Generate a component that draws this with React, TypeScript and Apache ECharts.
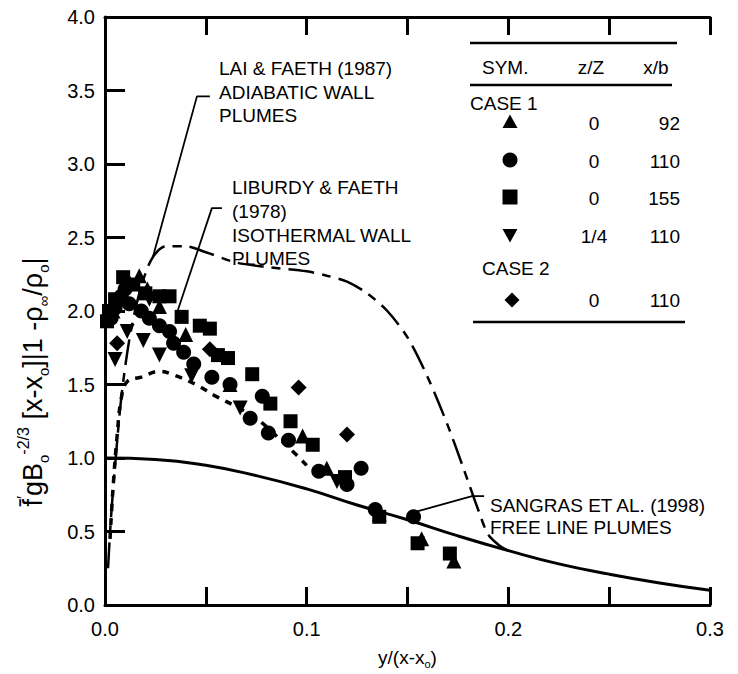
import React, { useEffect, useRef } from 'react';
import * as echarts from 'echarts';

// ---- axis ticks ----
const xTicks = [0, 0.05, 0.1, 0.15, 0.2, 0.25, 0.3];
const yTicks = [0, 0.5, 1, 1.5, 2, 2.5, 3, 3.5, 4];

// ---- data: CASE 1 ----
const case1Tri92: [number, number][] = [
  [0.004, 2.0], [0.007, 2.1], [0.012, 2.2], [0.017, 2.24], [0.021, 2.15], [0.027, 2.03], [0.04, 1.84],
  [0.062, 1.5], [0.098, 1.15], [0.11, 0.93], [0.136, 0.62], [0.157, 0.45], [0.173, 0.3],
];
const case1Circ110: [number, number][] = [
  [0.003, 1.95], [0.005, 2.02], [0.008, 2.1], [0.01, 2.15], [0.012, 2.05], [0.018, 2.0], [0.022, 1.95], [0.027, 1.9],
  [0.032, 1.86], [0.034, 1.78], [0.039, 1.72], [0.044, 1.64], [0.053, 1.55], [0.062, 1.5],
  [0.072, 1.27], [0.078, 1.42], [0.081, 1.17], [0.091, 1.12], [0.106, 0.91], [0.12, 0.82],
  [0.127, 0.93], [0.134, 0.65], [0.153, 0.6],
];
const case1Sq155: [number, number][] = [
  [0.001, 1.93], [0.002, 2.0], [0.005, 2.08], [0.009, 2.23], [0.014, 2.18], [0.02, 2.12], [0.027, 2.1], [0.032, 2.1],
  [0.038, 1.96], [0.047, 1.9], [0.052, 1.88], [0.056, 1.7], [0.061, 1.68], [0.073, 1.57],
  [0.082, 1.37], [0.092, 1.25], [0.103, 1.09], [0.119, 0.87], [0.136, 0.6], [0.155, 0.42],
  [0.171, 0.35],
];
const case1DownTri110: [number, number][] = [
  [0.005, 1.67], [0.011, 1.86], [0.019, 1.8], [0.022, 2.08], [0.027, 1.7], [0.043, 1.56],
  [0.067, 1.34], [0.115, 0.84],
];
// ---- data: CASE 2 ----
const case2Diam110: [number, number][] = [
  [0.006, 1.78], [0.052, 1.74], [0.096, 1.48], [0.12, 1.16],
];

// ---- model curves ----
const sangrasX = [0, 0.025, 0.05, 0.075, 0.1, 0.125, 0.15, 0.175, 0.2, 0.225, 0.25, 0.275, 0.3];
const sangrasY = [1.0, 0.99, 0.95, 0.88, 0.79, 0.68, 0.58, 0.47, 0.37, 0.28, 0.21, 0.15, 0.1];
const laiX = [0.0015, 0.003, 0.005, 0.008, 0.012, 0.017, 0.023, 0.03, 0.04, 0.05, 0.065, 0.08, 0.1, 0.11, 0.12, 0.13, 0.14, 0.15, 0.16, 0.17, 0.178, 0.185, 0.19, 0.196, 0.2];
const laiY = [0.25, 0.6, 0.95, 1.4, 1.8, 2.12, 2.35, 2.44, 2.44, 2.4, 2.33, 2.3, 2.27, 2.24, 2.2, 2.12, 2.0, 1.82, 1.55, 1.22, 0.92, 0.65, 0.48, 0.4, 0.37];
const liburdyX = [0.0025, 0.004, 0.006, 0.008, 0.011, 0.018, 0.027, 0.035, 0.045, 0.055, 0.065, 0.075, 0.085, 0.095, 0.1];
const liburdyY = [0.45, 0.8, 1.15, 1.4, 1.52, 1.55, 1.59, 1.56, 1.5, 1.42, 1.35, 1.27, 1.15, 1.02, 0.95];

// ---- leader lines (annotation) ----
const laiLeader: [number, number][] = [[0.052, 3.46], [0.0456, 3.46], [0.0238, 2.37]];
const liburdyLeader: [number, number][] = [[0.058, 2.7], [0.053, 2.7], [0.036, 2.0]];
const sangrasLeader: [number, number][] = [[0.188, 0.74], [0.182, 0.74], [0.153, 0.63]];

// ---- table ----
const tableRows = [
  { sym: 'tri', z: '0', xb: '92' },
  { sym: 'circ', z: '0', xb: '110' },
  { sym: 'sq', z: '0', xb: '155' },
  { sym: 'dtri', z: '1/4', xb: '110' },
];
const case2Rows = [{ sym: 'diam', z: '0', xb: '110' }];

const FONT = '"Liberation Sans", Arial, Helvetica, sans-serif';
const zip = (xs: number[], ys: number[]) => xs.map((x, i) => [x, ys[i]]);

export default function App() {
  const ref = useRef<HTMLDivElement>(null);
  useEffect(() => {
    document.body.style.margin = '0';
    const chart = echarts.init(ref.current!, undefined, { renderer: 'svg' });

    const G = { left: 105, right: 28, top: 17, bottom: 56 };
    const txt = (x: number, y: number, text: string, align = 'left', size = 19) => ({
      type: 'text', x, y, silent: true,
      style: { text, fill: '#000', font: `${size}px ${FONT}`, align, verticalAlign: 'middle' },
    });
    const hline = (x1: number, x2: number, y: number) => ({
      type: 'line', silent: true, shape: { x1, y1: y, x2, y2: y }, style: { stroke: '#000', lineWidth: 2.5 },
    });
    const symShape = (kind: string, cx: number, cy: number) => {
      const s = 7.5;
      const st = { fill: '#000' };
      if (kind === 'tri') return { type: 'polygon', shape: { points: [[cx, cy - s], [cx + s, cy + s * 0.8], [cx - s, cy + s * 0.8]] }, style: st };
      if (kind === 'dtri') return { type: 'polygon', shape: { points: [[cx - s, cy - s * 0.8], [cx + s, cy - s * 0.8], [cx, cy + s]] }, style: st };
      if (kind === 'circ') return { type: 'circle', shape: { cx, cy, r: s }, style: st };
      if (kind === 'sq') return { type: 'rect', shape: { x: cx - s, y: cy - s, width: 2 * s, height: 2 * s }, style: st };
      return { type: 'polygon', shape: { points: [[cx, cy - s], [cx + s, cy], [cx, cy + s], [cx - s, cy]] }, style: st };
    };

    const rowY = [122, 160, 197, 235];
    const tableEls: any[] = [
      hline(470, 677, 43),
      txt(482, 67, 'SYM.'),
      txt(591, 67, 'z/Z', 'center'),
      txt(656, 67, 'x/b', 'center'),
      hline(470, 672, 85),
      txt(470, 103, 'CASE 1'),
      ...tableRows.flatMap((r, i) => [
        symShape(r.sym, 510, rowY[i]),
        txt(594, rowY[i] + 1, r.z, 'center'),
        txt(680, rowY[i] + 1, r.xb, 'right'),
      ]),
      txt(482, 268, 'CASE 2'),
      ...case2Rows.flatMap((r) => [
        symShape(r.sym, 512, 300),
        txt(594, 300, r.z, 'center'),
        txt(680, 300, r.xb, 'right'),
      ]),
      hline(473, 685, 322),
    ];

    const labelEls: any[] = [
      txt(219, 68, 'LAI & FAETH (1987)'),
      txt(219, 92, 'ADIABATIC WALL'),
      txt(219, 115, 'PLUMES'),
      txt(232, 187, 'LIBURDY & FAETH'),
      txt(232, 211, '(1978)'),
      txt(232, 235, 'ISOTHERMAL WALL'),
      txt(232, 258, 'PLUMES'),
      txt(490, 505, 'SANGRAS ET AL. (1998)'),
      txt(490, 527, 'FREE LINE PLUMES'),
    ];

    const yTitle = {
      type: 'text', x: 33, y: 382, rotation: Math.PI / 2, silent: true,
      style: {
        text: '{n|f̄}{sup|′}{n|gB}{sub|o}{sup|-2/3}{n| [x-x}{sub|o}{n|]|1 -ρ}{sub|∞}{n|/ρ}{sub|o}{n||}',
        align: 'center', verticalAlign: 'middle', fill: '#000',
        rich: {
          n: { fontSize: 27, fontFamily: FONT, lineHeight: 36, fill: '#000' },
          sup: { fontSize: 16, fontFamily: FONT, lineHeight: 16, verticalAlign: 'top', fill: '#000' },
          sub: { fontSize: 15, fontFamily: FONT, lineHeight: 15, verticalAlign: 'bottom', fill: '#000' },
        },
      },
    };

    const scatter = (name: string, data: any[], symbol: string, size: number, rotate = 0) => ({
      name, type: 'scatter', data, symbol, symbolSize: size, symbolRotate: rotate, z: 5,
      itemStyle: { color: '#000', opacity: 1 },
    });
    const leader = (data: any[]) => ({
      type: 'line', data, showSymbol: false, symbol: 'none', silent: true, z: 3,
      lineStyle: { color: '#000', width: 1.8 },
    });

    chart.setOption({
      animation: false,
      backgroundColor: '#fff',
      textStyle: { fontFamily: FONT, color: '#000' },
      grid: G,
      xAxis: [
        {
          type: 'value', position: 'bottom', min: 0, max: 0.3, interval: 0.05,
          axisLine: { onZero: false, lineStyle: { color: '#000', width: 3 } },
          axisTick: { inside: true, length: 18, lineStyle: { color: '#000', width: 3 } },
          splitLine: { show: false },
          axisLabel: {
            fontSize: 20, color: '#000', fontFamily: FONT, margin: 14,
            formatter: (v: number) => (Math.round(v * 100) % 10 === 0 ? v.toFixed(1) : ''),
          },
          name: '{n|y/(x-x}{s|o}{n|)}', nameLocation: 'middle', nameGap: 40,
          nameTextStyle: {
            rich: {
              n: { fontSize: 19, fontFamily: FONT, color: '#000', lineHeight: 24 },
              s: { fontSize: 11, fontFamily: FONT, color: '#000', lineHeight: 10, verticalAlign: 'bottom' },
            },
          },
        },
        {
          type: 'value', position: 'top', min: 0, max: 0.3, interval: 0.05,
          axisLine: { onZero: false, lineStyle: { color: '#000', width: 3 } },
          axisTick: { inside: true, length: 18, lineStyle: { color: '#000', width: 3 } },
          splitLine: { show: false }, axisLabel: { show: false },
        },
      ],
      yAxis: [
        {
          type: 'value', position: 'left', min: 0, max: 4, interval: 0.5,
          axisLine: { show: true, onZero: false, lineStyle: { color: '#000', width: 3 } },
          axisTick: { show: true, inside: true, length: 20, lineStyle: { color: '#000', width: 3 } },
          splitLine: { show: false },
          axisLabel: { fontSize: 20, color: '#000', fontFamily: FONT, margin: 10, formatter: (v: number) => v.toFixed(1) },
        },
      ],
      series: [
        {
          name: 'Sangras', type: 'line', data: zip(sangrasX, sangrasY), smooth: true, showSymbol: false, symbol: 'none', z: 2,
          lineStyle: { color: '#000', width: 3 },
        },
        {
          name: 'Lai', type: 'line', data: zip(laiX, laiY), smooth: 0.3, showSymbol: false, symbol: 'none', z: 2,
          lineStyle: { color: '#000', width: 2.5, type: [26, 8, 9, 8] },
        },
        {
          name: 'Liburdy', type: 'line', data: zip(liburdyX, liburdyY), smooth: 0.4, showSymbol: false, symbol: 'none', z: 2,
          lineStyle: { color: '#000', width: 3.5, type: [7, 7] },
        },
        leader(laiLeader),
        leader(liburdyLeader),
        leader(sangrasLeader),
        scatter('tri92', case1Tri92, 'triangle', 15),
        scatter('circ110', case1Circ110, 'circle', 15),
        scatter('sq155', case1Sq155, 'rect', 14),
        scatter('dtri110', case1DownTri110, 'triangle', 15, 180),
        scatter('diam110', case2Diam110, 'diamond', 16),
      ],
      graphic: [...tableEls, ...labelEls, yTitle],
    });
    return () => chart.dispose();
  }, []);
  return <div ref={ref} style={{ position: 'fixed', left: 0, top: 0, width: 738, height: 674 }} />;
}
